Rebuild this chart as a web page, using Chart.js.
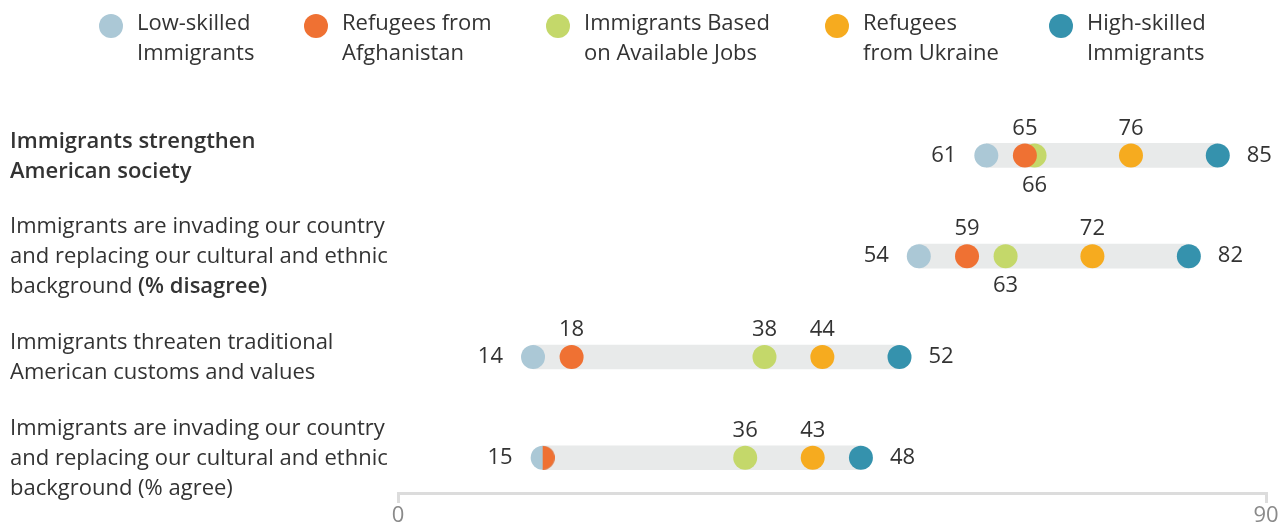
<!DOCTYPE html>
<html>
<head>
<meta charset="utf-8">
<script src="https://cdn.jsdelivr.net/npm/chart.js@4.4.1/dist/chart.umd.min.js"></script>
<style>
  html, body { margin: 0; padding: 0; background: #fff; }
  #wrap { position: relative; width: 1284px; height: 529px; font-family: 'Open Sans', sans-serif; color: #333; }
  #chart { position: absolute; left: 0; top: 0; }
  .lg { position: absolute; top: 6px; font-size: 22px; line-height: 30px; white-space: nowrap; }
  .lg i { position: absolute; width: 24px; height: 24px; border-radius: 50%; top: 8px; }
</style>
</head>
<body>
<div id="wrap">
  <canvas id="chart" width="1284" height="529"></canvas>
  <div id="legend"></div>
</div>
<script>
// statements (rows), ** marks bold runs
const categories = [
  ['**Immigrants strengthen**', '**American society**'],
  ['Immigrants are invading our country', 'and replacing our cultural and ethnic', 'background **(% disagree)**'],
  ['Immigrants threaten traditional', 'American customs and values'],
  ['Immigrants are invading our country', 'and replacing our cultural and ethnic', 'background (% agree)'],
];

const seriesNames = [
  ['Low-skilled', 'Immigrants'],
  ['Refugees from', 'Afghanistan'],
  ['Immigrants Based', 'on Available Jobs'],
  ['Refugees', 'from Ukraine'],
  ['High-skilled', 'Immigrants'],
];
const seriesColors = ['#abc8d6', '#ef7133', '#c4d86a', '#f6ab1f', '#3592ad'];

const lowSkilled    = [61, 54, 14, 15];
const afghanistan   = [65, 59, 18, 15];
const availableJobs = [66, 63, 38, 36];
const ukraine       = [76, 72, 44, 43];
const highSkilled   = [85, 82, 52, 48];

const xTicks = [0, 90];

const series = [lowSkilled, afghanistan, availableJobs, ukraine, highSkilled];

(function () {
  const TXT = '#333';
  const FONT = "'Open Sans', sans-serif";
  const legendX = [111, 316, 558, 837, 1061];
  const drawOrder = [1, 0, 2, 3, 4]; // afghanistan on top

  function el(id) { return document.getElementById(id); }

  function renderLegend() {
    el('legend').innerHTML = seriesNames.map((n, i) => `
      <div class="lg" style="left:${legendX[i] - 12}px;padding-left:38px">
        <i style="left:0;background:${seriesColors[i]}"></i>${n.join('<br>')}
      </div>`).join('');
  }

  // right half circle, used when a point sits on top of an equal value
  function halfDot(color, r) {
    const c = document.createElement('canvas');
    c.width = c.height = r * 2;
    const g = c.getContext('2d');
    g.fillStyle = color;
    g.beginPath();
    g.arc(r, r, r, -Math.PI / 2, Math.PI / 2);
    g.closePath();
    g.fill();
    return c;
  }

  function drawRich(ctx, line, x, y) {
    const parts = line.split('**');
    parts.forEach((p, k) => {
      if (!p) return;
      ctx.font = (k % 2 ? '600 ' : '400 ') + '22px ' + FONT;
      ctx.fillText(p, x, y);
      x += ctx.measureText(p).width;
    });
  }

  const labelsPlugin = {
    id: 'labels',
    afterDatasetsDraw(chart) {
      const { ctx, scales: { x, y } } = chart;
      ctx.save();
      ctx.fillStyle = TXT;
      ctx.textBaseline = 'middle';

      // row labels
      categories.forEach((lines, r) => {
        const cy = y.getPixelForValue(r);
        ctx.textAlign = 'left';
        lines.forEach((ln, i) => {
          drawRich(ctx, ln, 10, cy + (i - (lines.length - 1) / 2) * 30 + 1);
        });
      });

      // value labels
      ctx.font = '22px ' + FONT;
      categories.forEach((_, r) => {
        const vals = [...new Set(series.map((s) => s[r]))].sort((a, b) => a - b);
        let lastAbove = -Infinity;
        vals.forEach((v, i) => {
          const px = x.getPixelForValue(v);
          const py = y.getPixelForValue(r);
          if (i === 0) {
            ctx.textAlign = 'right';
            ctx.fillText(v, px - 30, py);
          } else if (i === vals.length - 1) {
            ctx.textAlign = 'left';
            ctx.fillText(v, px + 29, py);
          } else if (v - lastAbove < 5) {
            ctx.textAlign = 'center';
            ctx.fillText(v, px, py + 30);
          } else {
            ctx.textAlign = 'center';
            ctx.fillText(v, px, py - 27);
            lastAbove = v;
          }
        });
      });
      ctx.restore();
    },
  };

  function renderChart() {
    const R = 12;
    const dotSets = series.map((s, i) => ({
      type: 'scatter',
      label: seriesNames[i].join(' '),
      data: s.map((v, r) => ({ x: v, y: r })),
      backgroundColor: seriesColors[i],
      borderWidth: 0,
      pointRadius: R,
      pointHoverRadius: R,
      pointStyle: s.map((v, r) => (i > 0 && series.slice(0, i).some((o) => o[r] === v)) ? halfDot(seriesColors[i], R) : 'circle'),
      order: drawOrder[i],
    }));

    const rangeSet = {
      type: 'bar',
      indexAxis: 'y',
      data: categories.map((_, r) => {
        const v = series.map((s) => s[r]);
        return { y: r, x: [Math.min(...v), Math.max(...v)] };
      }),
      backgroundColor: '#e8eaea',
      barThickness: 24,
      order: 10,
    };

    new Chart(el('chart'), {
      type: 'scatter',
      data: { datasets: [rangeSet, ...dotSets] },
      options: {
        responsive: false,
        animation: false,
        events: [],
        layout: { padding: { left: 398, right: 18, top: 100, bottom: 0 } },
        plugins: { legend: { display: false }, tooltip: { enabled: false } },
        scales: {
          x: {
            type: 'linear',
            min: 0,
            max: 90,
            offset: false,
            afterBuildTicks: (sc) => { sc.ticks = xTicks.map((v) => ({ value: v })); },
            afterFit: (sc) => { sc.height = 36; },
            border: { display: true, color: '#dcdcdc', width: 3 },
            grid: { offset: false, drawOnChartArea: false, drawTicks: true, tickLength: 10, color: '#dcdcdc', lineWidth: 3 },
            ticks: { color: '#8a8a8a', font: { family: FONT, size: 22 }, padding: 0, maxRotation: 0 },
          },
          y: {
            type: 'linear',
            display: false,
            reverse: true,
            offset: false,
            min: -0.55,
            max: 3.35,
          },
        },
      },
      plugins: [labelsPlugin],
    });
  }

  function init() {
    renderLegend();
    const f = document.fonts;
    Promise.all([f.load("22px 'Open Sans'"), f.load("600 22px 'Open Sans'")])
      .then(renderChart, renderChart);
  }

  if (document.readyState === 'loading') document.addEventListener('DOMContentLoaded', init);
  else init();
})();
</script>
</body>
</html>
